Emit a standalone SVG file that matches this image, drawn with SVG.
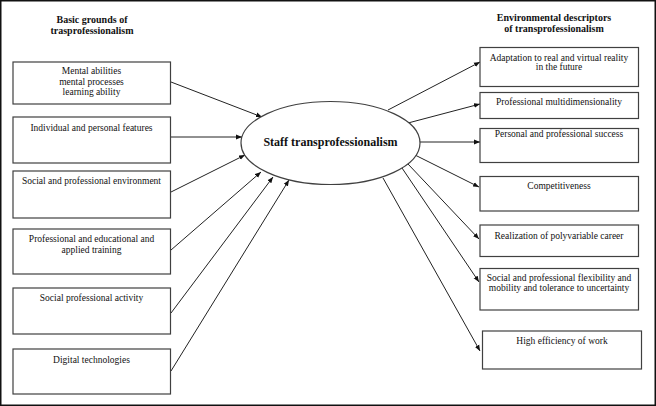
<svg xmlns="http://www.w3.org/2000/svg" width="656" height="406" viewBox="0 0 656 406">
<style>
.box{fill:#fff;stroke:#404040;stroke-width:1.2}
.t{font-family:"Liberation Serif","Times New Roman",serif;font-size:9.5px;fill:#111;text-anchor:middle}
.h{font-family:"Liberation Serif","Times New Roman",serif;font-size:10px;font-weight:bold;fill:#111;text-anchor:middle}
.c{stroke:#222;stroke-width:1;fill:none;marker-end:url(#ah)}
</style>
<defs>
<marker id="ah" viewBox="0 0 10 10" refX="10" refY="5" markerWidth="6" markerHeight="6" markerUnits="userSpaceOnUse" orient="auto">
<path d="M0,1 L10,5 L0,9 z" fill="#111"/>
</marker>
</defs>
<rect x="0" y="0" width="656" height="406" fill="#fff"/>
<rect x="0.75" y="0.75" width="654.5" height="404.5" fill="none" stroke="#111" stroke-width="1.5"/>
<text class="h" x="92" y="23">Basic grounds of</text>
<text class="h" x="92" y="34">trasprofessionalism</text>
<text class="h" x="554" y="21">Environmental descriptors</text>
<text class="h" x="554" y="31.5">of transprofessionalism</text>
<g id="connectors">
<line class="c" x1="171" y1="82" x2="262" y2="117"/>
<line class="c" x1="171" y1="137" x2="242" y2="137"/>
<line class="c" x1="171" y1="192" x2="245" y2="155"/>
<line class="c" x1="171" y1="250" x2="261" y2="172"/>
<line class="c" x1="171" y1="313" x2="273" y2="177"/>
<line class="c" x1="171" y1="371" x2="289" y2="180"/>
<line class="c" x1="388" y1="110" x2="480" y2="62"/>
<line class="c" x1="408" y1="123" x2="480" y2="104"/>
<line class="c" x1="419" y1="142" x2="480" y2="142"/>
<line class="c" x1="415" y1="155" x2="479" y2="187"/>
<line class="c" x1="408" y1="164" x2="479" y2="239"/>
<line class="c" x1="402" y1="168" x2="479" y2="282"/>
<line class="c" x1="383" y1="178" x2="480" y2="351"/>
</g>
<g id="center">
<ellipse cx="330.5" cy="143" rx="89.5" ry="41.5" fill="#fff" stroke="#404040" stroke-width="1.2"/>
<text x="330.5" y="146" font-family="Liberation Serif, Times New Roman, serif" font-size="12px" font-weight="bold" fill="#111" text-anchor="middle">Staff transprofessionalism</text>
</g>
<g id="l1"><rect class="box" x="13" y="62" width="157.5" height="42"/>
<text class="t" x="91.5" y="74">Mental abilities</text>
<text class="t" x="91.5" y="84.5">mental processes</text>
<text class="t" x="91.5" y="94.5">learning ability</text></g>
<g id="l2"><rect class="box" x="13" y="117" width="157.5" height="46"/>
<text class="t" x="91.5" y="130.5">Individual and personal features</text></g>
<g id="l3"><rect class="box" x="13" y="171" width="157.5" height="47"/>
<text class="t" x="91.5" y="184">Social and professional environment</text></g>
<g id="l4"><rect class="box" x="13" y="229" width="157.5" height="45"/>
<text class="t" x="91.5" y="241.5">Professional and educational and</text>
<text class="t" x="91.5" y="253">applied training</text></g>
<g id="l5"><rect class="box" x="13" y="288" width="157.5" height="46"/>
<text class="t" x="91.5" y="301">Social professional activity</text></g>
<g id="l6"><rect class="box" x="13" y="349" width="157.5" height="45"/>
<text class="t" x="91.5" y="363">Digital technologies</text></g>
<g id="r1"><rect class="box" x="480" y="47.5" width="158.5" height="39"/>
<text class="t" x="559" y="60.5">Adaptation to real and virtual reality</text>
<text class="t" x="559" y="70">in the future</text></g>
<g id="r2"><rect class="box" x="480" y="92.5" width="158.5" height="26"/>
<text class="t" x="559" y="104.5">Professional multidimensionality</text></g>
<g id="r3"><rect class="box" x="480" y="128.5" width="158.5" height="34"/>
<text class="t" x="559" y="137">Personal and professional success</text></g>
<g id="r4"><rect class="box" x="480" y="176.5" width="158.5" height="34.5"/>
<text class="t" x="559" y="189">Competitiveness</text></g>
<g id="r5"><rect class="box" x="480" y="225" width="158.5" height="31.5"/>
<text class="t" x="559" y="238.5">Realization of polyvariable career</text></g>
<g id="r6"><rect class="box" x="480" y="268.5" width="158.5" height="41.5"/>
<text class="t" x="559" y="280.5">Social and professional flexibility and</text>
<text class="t" x="559" y="290.5">mobility and tolerance to uncertainty</text></g>
<g id="r7"><rect class="box" x="482.5" y="331" width="159" height="38"/>
<text class="t" x="562" y="344">High efficiency of work</text></g>
</svg>
